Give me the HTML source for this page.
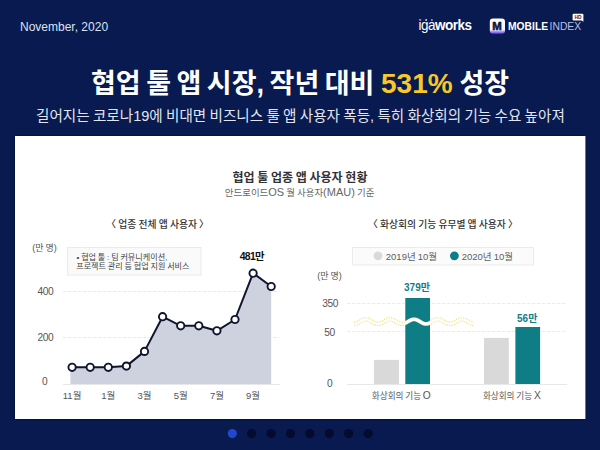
<!DOCTYPE html>
<html lang="ko">
<head>
<meta charset="utf-8">
<title>협업 툴 앱 시장, 작년 대비 531% 성장</title>
<style>
  html, body { margin: 0; padding: 0; }
  body {
    width: 600px; height: 450px; overflow: hidden; position: relative;
    background: #081a4f;
    font-family: "Liberation Sans", "Noto Sans CJK KR", sans-serif;
  }
  svg { position: absolute; left: 0; top: 0; display: block; }
  .kr { font-family: "Liberation Sans", "Noto Sans CJK KR", sans-serif; }
</style>
</head>
<body>
<svg width="600" height="450" viewBox="0 0 600 450" class="kr">
  <defs>
    <filter id="sh" x="-5%" y="-5%" width="110%" height="110%">
      <feDropShadow dx="0" dy="0" stdDeviation="1.1" flood-color="#000018" flood-opacity="0.75"/>
    </filter>
    <linearGradient id="mgrad" x1="0" y1="0" x2="0" y2="1">
      <stop offset="0" stop-color="#ffffff"/>
      <stop offset="0.74" stop-color="#f6f4ff"/>
      <stop offset="0.86" stop-color="#a890ff"/>
      <stop offset="1" stop-color="#5b3ef0"/>
    </linearGradient>
  </defs>

  <!-- header -->
  <text x="20" y="30.5" font-size="12" fill="#dde2ee">November, 2020</text>

  <!-- igaworks logo -->
  <g>
    <text x="0" y="30.3" font-size="15" fill="#ffffff" letter-spacing="-0.55" transform="translate(418.6 0) scale(0.9 1)">iga<tspan font-weight="bold">works</tspan></text>
    <circle cx="420.3" cy="19.9" r="1.0" fill="#c46a8e"/>
    <circle cx="426.1" cy="19.9" r="1.0" fill="#d4d6e4"/>
    <circle cx="431.9" cy="19.9" r="1.0" fill="#86a2e6"/>
  </g>

  <!-- mobileindex logo -->
  <g>
    <rect x="489.8" y="18.5" width="15.2" height="15.2" rx="3.2" fill="url(#mgrad)"/>
    <text x="0" y="0" font-size="10.2" font-weight="bold" fill="#0b1640" stroke="#0b1640" stroke-width="0.55" text-anchor="middle" transform="translate(497.1 29.6) scale(1.12 1)">M</text>
    <text x="508" y="29.9" font-size="10.3" font-weight="bold" fill="#ffffff">MOBILE</text>
    <text x="549.6" y="29.9" font-size="10.3" fill="#b6c0e6">INDEX</text>
    <path d="M573.6 13.8 h8.8 a1 1 0 0 1 1 1 v5.4 l0 1.6 l-2 -1.4 h-7.8 a1 1 0 0 1 -1 -1 v-4.6 a1 1 0 0 1 1 -1 z" fill="#ffffff"/>
    <text x="578" y="18.7" font-size="4.8" font-weight="bold" fill="#1a2356" text-anchor="middle">HD</text>
  </g>

  <!-- title -->
  <text x="91" y="92.8" font-size="27" font-weight="bold" fill="#ffffff" word-spacing="-2">협업 툴 앱 시장, 작년 대비 <tspan x="381" font-size="28" fill="#f6c928">531%</tspan> <tspan x="459.5">성장</tspan></text>
  <text x="300.4" y="120.8" font-size="14.58" fill="#e2e6f0" text-anchor="middle" word-spacing="-0.79">길어지는 코로나19에 비대면 비즈니스 툴 앱 사용자 폭등, 특히 화상회의 기능 수요 높아져</text>

  <!-- card -->
  <rect x="15" y="136" width="570.3" height="283" fill="#ffffff" filter="url(#sh)"/>

  <text x="300" y="181.7" font-size="12" font-weight="bold" fill="#333333" text-anchor="middle" word-spacing="-0.65">협업 툴 업종 앱 사용자 현황</text>
  <text x="299.6" y="196.1" font-size="9.45" fill="#666666" text-anchor="middle" word-spacing="-0.52">안드로이드<tspan font-size="11">OS</tspan> 월 사용자<tspan font-size="11">(MAU)</tspan> 기준</text>

  <!-- left chart -->
  <text x="157.6" y="228" font-size="9.8" font-weight="500" fill="#333333" text-anchor="middle" word-spacing="-0.53">〈 업종 전체 앱 사용자 〉</text>
  <text x="44.5" y="251.3" font-size="9" fill="#555555" text-anchor="middle" word-spacing="-0.49">(만 명)</text>
  <rect x="67.5" y="247.5" width="133.5" height="27.5" fill="#fafafa" stroke="#ebebeb" stroke-width="1"/>
  <text x="76.5" y="259.6" font-size="8.1" fill="#444444" word-spacing="-0.44">• 협업 툴 : 팀 커뮤니케이션,</text>
  <text x="76.2" y="269.4" font-size="8.1" fill="#444444" word-spacing="-0.44">프로젝트 관리 등 협업 지원 서비스</text>

  <g stroke="#ebebeb" stroke-width="1" stroke-dasharray="3.5,1.5">
    <line x1="63" y1="291.5" x2="279" y2="291.5"/>
    <line x1="63" y1="337.5" x2="279" y2="337.5"/>
  </g>
  <g font-size="10.2" fill="#555555" text-anchor="middle" letter-spacing="-0.45">
    <text x="45.4" y="294.9">400</text>
    <text x="45.4" y="340.9">200</text>
    <text x="44.7" y="384.6">0</text>
  </g>

  <path d="M70.4 384 L70.4 367.3 L72.1 367.3 L90.2 367.3 L108.3 367.3 L126.4 366.1 L144.5 351.4 L162.6 316.7 L180.7 325.8 L198.8 325.8 L216.9 330.8 L235.0 319.5 L253.1 273.2 L271.2 286.5 L271.2 384 Z" fill="#cdd2de"/>
  <line x1="63" y1="384.5" x2="280" y2="384.5" stroke="#e8e8e8" stroke-width="1"/>
  <polyline points="72.1,367.3 90.2,367.3 108.3,367.3 126.4,366.1 144.5,351.4 162.6,316.7 180.7,325.8 198.8,325.8 216.9,330.8 235.0,319.5 253.1,273.2 271.2,286.5" fill="none" stroke="#0f1530" stroke-width="2" stroke-linejoin="round"/>
  <g fill="#ffffff" stroke="#0f1530" stroke-width="1.9">
    <circle cx="72.1" cy="367.3" r="3.65"/>
    <circle cx="90.2" cy="367.3" r="3.65"/>
    <circle cx="108.3" cy="367.3" r="3.65"/>
    <circle cx="126.4" cy="366.1" r="3.65"/>
    <circle cx="144.5" cy="351.4" r="3.65"/>
    <circle cx="162.6" cy="316.7" r="3.65"/>
    <circle cx="180.7" cy="325.8" r="3.65"/>
    <circle cx="198.8" cy="325.8" r="3.65"/>
    <circle cx="216.9" cy="330.8" r="3.65"/>
    <circle cx="235.0" cy="319.5" r="3.65"/>
    <circle cx="253.1" cy="273.2" r="3.65"/>
    <circle cx="271.2" cy="286.5" r="3.65"/>
  </g>
  <text x="251.8" y="260.1" font-size="10.4" font-weight="bold" fill="#111111" text-anchor="middle" letter-spacing="-0.75">481만</text>
  <g font-size="9.5" fill="#555555" text-anchor="middle">
    <text x="72.1" y="399">11월</text>
    <text x="108.3" y="399">1월</text>
    <text x="144.5" y="399">3월</text>
    <text x="180.7" y="399">5월</text>
    <text x="216.9" y="399">7월</text>
    <text x="253.1" y="399">9월</text>
  </g>

  <!-- right chart -->
  <text x="442.9" y="228" font-size="9.8" font-weight="500" fill="#333333" text-anchor="middle" word-spacing="-0.53">〈 화상회의 기능 유무별 앱 사용자 〉</text>
  <rect x="352.5" y="247.5" width="181" height="17.5" fill="#fbfbfb" stroke="#ebebeb" stroke-width="1"/>
  <circle cx="378" cy="255.8" r="4.4" fill="#d9d9d9"/>
  <text x="385.8" y="259.7" font-size="9.5" fill="#5e5e5e" word-spacing="-0.51">2019년 10월</text>
  <circle cx="454.4" cy="255.8" r="4.4" fill="#0f7d86"/>
  <text x="461.7" y="259.7" font-size="9.5" fill="#5e5e5e" word-spacing="-0.51">2020년 10월</text>

  <text x="329.6" y="279" font-size="9" fill="#555555" text-anchor="middle" word-spacing="-0.49">(만 명)</text>
  <g stroke="#ebebeb" stroke-width="1" stroke-dasharray="3.5,1.5">
    <line x1="347" y1="303.5" x2="567" y2="303.5"/>
    <line x1="347" y1="331.5" x2="567" y2="331.5"/>
  </g>
  <g font-size="10.2" fill="#555555" text-anchor="middle" letter-spacing="-0.45">
    <text x="330.2" y="307.1">350</text>
    <text x="329.4" y="335.6">50</text>
    <text x="329.5" y="387.2">0</text>
  </g>
  <rect x="373.9" y="359.9" width="25" height="24.1" fill="#d9d9d9"/>
  <rect x="405.3" y="298" width="24.7" height="86" fill="#0f7d86"/>
  <rect x="484" y="337.9" width="24.8" height="46.1" fill="#d9d9d9"/>
  <rect x="515.4" y="327" width="24.7" height="57" fill="#0f7d86"/>
  <line x1="347" y1="384.5" x2="567" y2="384.5" stroke="#e8e8e8" stroke-width="1"/>

  <!-- axis break wave -->
  <g fill="none" stroke-linejoin="round">
    <polyline points="354.0,323.90 355.0,323.82 356.0,323.59 357.0,323.23 358.0,322.75 359.0,322.20 360.0,321.60 361.0,321.00 362.0,320.45 363.0,319.97 364.0,319.61 365.0,319.38 366.0,319.30 367.0,319.38 368.0,319.61 369.0,319.97 370.0,320.45 371.0,321.00 372.0,321.60 373.0,322.20 374.0,322.75 375.0,323.23 376.0,323.59 377.0,323.82 378.0,323.90 379.0,323.82 380.0,323.59 381.0,323.23 382.0,322.75 383.0,322.20 384.0,321.60 385.0,321.00 386.0,320.45 387.0,319.97 388.0,319.61 389.0,319.38 390.0,319.30 391.0,319.38 392.0,319.61 393.0,319.97 394.0,320.45 395.0,321.00 396.0,321.60 397.0,322.20 398.0,322.75 399.0,323.23 400.0,323.59 401.0,323.82 402.0,323.90 403.0,323.82 404.0,323.59 405.0,323.23" stroke="#f2d54c" stroke-width="4.4" stroke-dasharray="1 1.1" opacity="0.8"/>
    <polyline points="430.0,322.75 431.0,322.20 432.0,321.60 433.0,321.00 434.0,320.45 435.0,319.97 436.0,319.61 437.0,319.38 438.0,319.30 439.0,319.38 440.0,319.61 441.0,319.97 442.0,320.45 443.0,321.00 444.0,321.60 445.0,322.20 446.0,322.75 447.0,323.23 448.0,323.59 449.0,323.82 450.0,323.90 451.0,323.82 452.0,323.59 453.0,323.23 454.0,322.75 455.0,322.20 456.0,321.60 457.0,321.00 458.0,320.45 459.0,319.97 460.0,319.61 461.0,319.38 462.0,319.30 463.0,319.38 464.0,319.61 465.0,319.97 466.0,320.45 467.0,321.00 468.0,321.60 469.0,322.20 470.0,322.75 471.0,323.23 472.0,323.59 473.0,323.82 474.0,323.90" stroke="#f2d54c" stroke-width="4.4" stroke-dasharray="1 1.1" opacity="0.8"/>
    <polyline points="354.0,323.90 355.0,323.82 356.0,323.59 357.0,323.23 358.0,322.75 359.0,322.20 360.0,321.60 361.0,321.00 362.0,320.45 363.0,319.97 364.0,319.61 365.0,319.38 366.0,319.30 367.0,319.38 368.0,319.61 369.0,319.97 370.0,320.45 371.0,321.00 372.0,321.60 373.0,322.20 374.0,322.75 375.0,323.23 376.0,323.59 377.0,323.82 378.0,323.90 379.0,323.82 380.0,323.59 381.0,323.23 382.0,322.75 383.0,322.20 384.0,321.60 385.0,321.00 386.0,320.45 387.0,319.97 388.0,319.61 389.0,319.38 390.0,319.30 391.0,319.38 392.0,319.61 393.0,319.97 394.0,320.45 395.0,321.00 396.0,321.60 397.0,322.20 398.0,322.75 399.0,323.23 400.0,323.59 401.0,323.82 402.0,323.90 403.0,323.82 404.0,323.59 405.0,323.23 406.0,322.75 407.0,322.20 408.0,321.60 409.0,321.00 410.0,320.45 411.0,319.97 412.0,319.61 413.0,319.38 414.0,319.30 415.0,319.38 416.0,319.61 417.0,319.97 418.0,320.45 419.0,321.00 420.0,321.60 421.0,322.20 422.0,322.75 423.0,323.23 424.0,323.59 425.0,323.82 426.0,323.90 427.0,323.82 428.0,323.59 429.0,323.23 430.0,322.75 431.0,322.20 432.0,321.60 433.0,321.00 434.0,320.45 435.0,319.97 436.0,319.61 437.0,319.38 438.0,319.30 439.0,319.38 440.0,319.61 441.0,319.97 442.0,320.45 443.0,321.00 444.0,321.60 445.0,322.20 446.0,322.75 447.0,323.23 448.0,323.59 449.0,323.82 450.0,323.90 451.0,323.82 452.0,323.59 453.0,323.23 454.0,322.75 455.0,322.20 456.0,321.60 457.0,321.00 458.0,320.45 459.0,319.97 460.0,319.61 461.0,319.38 462.0,319.30 463.0,319.38 464.0,319.61 465.0,319.97 466.0,320.45 467.0,321.00 468.0,321.60 469.0,322.20 470.0,322.75 471.0,323.23 472.0,323.59 473.0,323.82 474.0,323.90" stroke="#ffffff" stroke-width="2.2"/>
    <polyline points="405.0,323.23 406.0,322.75 407.0,322.20 408.0,321.60 409.0,321.00 410.0,320.45 411.0,319.97 412.0,319.61 413.0,319.38 414.0,319.30 415.0,319.38 416.0,319.61 417.0,319.97 418.0,320.45 419.0,321.00 420.0,321.60 421.0,322.20 422.0,322.75 423.0,323.23 424.0,323.59 425.0,323.82 426.0,323.90 427.0,323.82 428.0,323.59 429.0,323.23 430.0,322.75" stroke="#f7efc4" stroke-width="3.8"/>
    <polyline points="405.0,323.23 406.0,322.75 407.0,322.20 408.0,321.60 409.0,321.00 410.0,320.45 411.0,319.97 412.0,319.61 413.0,319.38 414.0,319.30 415.0,319.38 416.0,319.61 417.0,319.97 418.0,320.45 419.0,321.00 420.0,321.60 421.0,322.20 422.0,322.75 423.0,323.23 424.0,323.59 425.0,323.82 426.0,323.90 427.0,323.82 428.0,323.59 429.0,323.23 430.0,322.75" stroke="#ffffff" stroke-width="2.6"/>
  </g>

  <text x="417" y="291.4" font-size="10" font-weight="bold" fill="#0f7d86" text-anchor="middle">379만</text>
  <text x="527.2" y="322" font-size="10" font-weight="bold" fill="#0f7d86" text-anchor="middle">56만</text>
  <g font-size="8.6" fill="#555555" text-anchor="middle" word-spacing="-0.6">
    <text x="401.3" y="399">화상회의 기능 <tspan font-size="10.2">O</tspan></text>
    <text x="511.8" y="399">화상회의 기능 <tspan font-size="10.2">X</tspan></text>
  </g>

  <!-- pager dots -->
  <circle cx="232.3" cy="433.6" r="4.6" fill="#2048cc"/>
  <g fill="#040b2c">
    <circle cx="251.7" cy="433.6" r="4.6"/>
    <circle cx="271.1" cy="433.6" r="4.6"/>
    <circle cx="290.5" cy="433.6" r="4.6"/>
    <circle cx="309.9" cy="433.6" r="4.6"/>
    <circle cx="329.3" cy="433.6" r="4.6"/>
    <circle cx="348.7" cy="433.6" r="4.6"/>
    <circle cx="368.1" cy="433.6" r="4.6"/>
  </g>
</svg>
</body>
</html>
